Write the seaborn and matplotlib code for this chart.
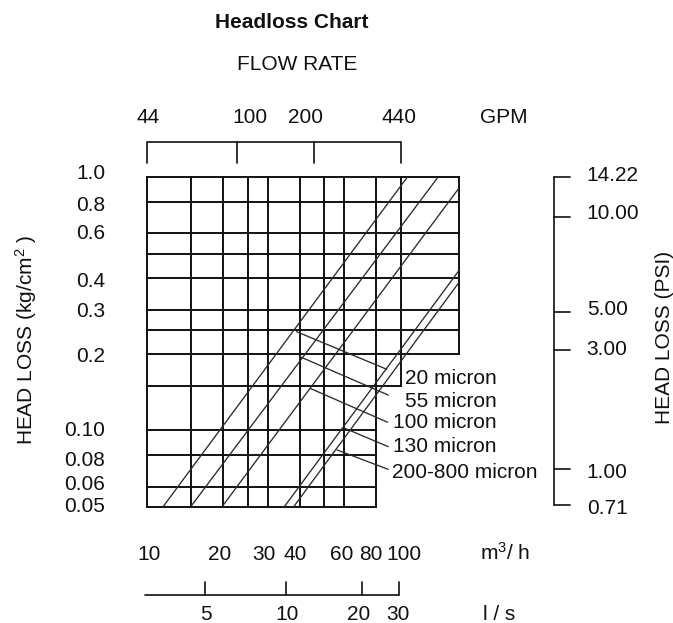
import numpy as np
import pandas as pd
import matplotlib
matplotlib.use("Agg")
import matplotlib.pyplot as plt
import matplotlib.transforms as mtrans
import seaborn as sns

# ---------------- data ----------------
flow_grid = [10, 15, 20, 25, 30, 40, 50, 60, 80, 100, 170]          # m3/h
head_grid = [1.0, 0.8, 0.6, 0.5, 0.4, 0.3, 0.25, 0.2, 0.15, 0.1, 0.08, 0.06, 0.05]  # kg/cm2
# stepped right-hand edge of the grid: band lower head -> right edge flow
edge_heads = [0.2, 0.15, 0.05]
edge_flows = [170, 100, 80]

filters = ["20 micron", "55 micron", "100 micron", "130 micron", "200-800 micron"]
line_flow_start = [11.6, 14.9, 19.8, 34.8, 37.9]
line_head_start = [0.05, 0.05, 0.05, 0.05, 0.05]
line_flow_end = [106, 140, 170, 170, 170]
line_head_end = [1.0, 1.0, 0.91, 0.43, 0.386]

leader_flow_start = [38.9, 40.1, 43.9, 59.8, 56.1]
leader_head_start = [0.2456, 0.1956, 0.1468, 0.1023, 0.0838]
leader_flow_end = [88.0, 89.3, 88.7, 89.3, 89.3]
leader_head_end = [0.1745, 0.138, 0.1078, 0.0863, 0.0702]
label_flow = [103.9, 103.9, 93.5, 93.5, 92.1]
label_head = [0.1631, 0.1328, 0.109, 0.0877, 0.0695]

kg_ticks = [1.0, 0.8, 0.6, 0.4, 0.3, 0.2, 0.10, 0.08, 0.06, 0.05]
kg_labels = ["1.0", "0.8", "0.6", "0.4", "0.3", "0.2", "0.10", "0.08", "0.06", "0.05"]
m3h_ticks = [10, 20, 30, 40, 60, 80, 100]
gpm_ticks = [44, 100, 200, 440]
GPM_TO_M3H = 0.22712
ls_ticks = [5, 10, 20, 30]
ls_tick_m3h = [17.0, 35.2, 70.6, 98.5]
ls_line_start_m3h = 9.85
psi_labels = ["14.22", "10.00", "5.00", "3.00", "1.00", "0.71"]
psi_tick_kg = [1.0, 0.70, 0.295, 0.207, 0.0703, 0.0508]

# ---------------- layout (pixels) ----------------
W, H = 673, 623
AX_L, AX_R, AX_T, AX_B = 146.7, 459.3, 177.3, 506.7
FS = 15.0
kg_nudge = [-5.6, 1.5, -1.8, 1.9, 0.3, 0.7, -2.4, 3.8, -3.7, -1.7]
m3h_nudge = [2.1, -3.2, -4.1, -4.2, -2.7, -5.6, 3.2]
gpm_nudge = [1.3, 12.5, -7.8, -1.7]
ls_nudge = [1, 1.7, -3.7, -0.8]
psi_nudge = [-3.3, -4.6, -3.7, -2.7, 1.0, 1.7]
HALF_DIGIT = 7.45

sns.set_style("white")
plt.rcParams["font.family"] = ["Liberation Sans", "DejaVu Sans"]
plt.rcParams["mathtext.fontset"] = "custom"
plt.rcParams["mathtext.rm"] = "Liberation Sans"
plt.rcParams["mathtext.it"] = "Liberation Sans:italic"
plt.rcParams["mathtext.bf"] = "Liberation Sans:bold"

fig = plt.figure(figsize=(W / 100, H / 100), dpi=100)
fig.patch.set_facecolor("white")
ax = fig.add_axes([AX_L / W, (H - AX_B) / H, (AX_R - AX_L) / W, (AX_B - AX_T) / H])
ax.set_xscale("log")
ax.set_yscale("log")
ax.set_xlim(10, 170)
ax.set_ylim(0.05, 1.0)


def fx(px):
    return (px - AX_L) / (AX_R - AX_L)


def fy(py):
    return (AX_B - py) / (AX_B - AX_T)


bx = mtrans.blended_transform_factory(ax.transData, ax.transAxes)
by = mtrans.blended_transform_factory(ax.transAxes, ax.transData)

GRID_LW = 1.4
GRID_C = "#111111"
TXT_C = "#111111"


def right_edge(h):
    for eh, ef in zip(edge_heads, edge_flows):
        if h >= eh - 1e-9:
            return ef
    return edge_flows[-1]


def bottom_of(f):
    low = None
    for eh, ef in zip(edge_heads, edge_flows):
        if ef >= f:
            low = eh
        else:
            break
    return low


for h in head_grid:
    ax.hlines(h, flow_grid[0], right_edge(h), color=GRID_C, lw=GRID_LW,
              clip_on=False, capstyle="projecting")
for f in flow_grid:
    ax.vlines(f, bottom_of(f), head_grid[0], color=GRID_C, lw=GRID_LW,
              clip_on=False, capstyle="projecting")

# diagonal headloss curves
rows = []
for name, fs, hs, fe, he in zip(filters, line_flow_start, line_head_start,
                                line_flow_end, line_head_end):
    rows.append({"filter": name, "flow": fs, "head": hs})
    rows.append({"filter": name, "flow": fe, "head": he})
df = pd.DataFrame(rows)
sns.lineplot(data=df, x="flow", y="head", hue="filter", units="filter",
             estimator=None, sort=False, palette={n: "#2b2b2b" for n in filters},
             legend=False, lw=0.95, ax=ax)

# leader lines + labels
for name, f0, h0, f1, h1, lf, lh in zip(filters, leader_flow_start, leader_head_start,
                                        leader_flow_end, leader_head_end,
                                        label_flow, label_head):
    ax.plot([f0, f1], [h0, h1], color="#2b2b2b", lw=0.95, clip_on=False)
    ax.annotate(name, xy=(lf, lh), xycoords="data", xytext=(0, -HALF_DIGIT),
                textcoords="offset pixels", ha="left", va="baseline", fontsize=FS,
                color=TXT_C, annotation_clip=False)

ax.axis("off")

# left kg/cm2 labels
for k, lab, nd in zip(kg_ticks, kg_labels, kg_nudge):
    ax.annotate(lab, xy=(fx(105), k), xycoords=by, xytext=(0, -(HALF_DIGIT + nd)),
                textcoords="offset pixels", ha="right", va="baseline", fontsize=FS,
                color=TXT_C, annotation_clip=False)

# top GPM bracket
gpm_m3h = [g * GPM_TO_M3H for g in gpm_ticks]
ax.plot([gpm_m3h[0], gpm_m3h[-1]], [fy(141.7)] * 2, transform=bx, clip_on=False,
        color=GRID_C, lw=1.2, solid_capstyle="butt")
for g, gm, nd in zip(gpm_ticks, gpm_m3h, gpm_nudge):
    ax.plot([gm, gm], [fy(141.7), fy(163.3)], transform=bx, clip_on=False,
            color=GRID_C, lw=1.2)
    ax.annotate(str(g), xy=(gm, fy(123.3)), xycoords=bx, xytext=(nd, 0),
                textcoords="offset pixels", ha="center", va="baseline", fontsize=FS,
                color=TXT_C, annotation_clip=False)

# bottom m3/h labels
for m, nd in zip(m3h_ticks, m3h_nudge):
    ax.annotate(str(m), xy=(m, fy(560)), xycoords=bx, xytext=(nd, 0),
                textcoords="offset pixels", ha="center", va="baseline", fontsize=FS,
                color=TXT_C, annotation_clip=False)

# l/s scale
ax.plot([ls_line_start_m3h, ls_tick_m3h[-1]], [fy(595)] * 2, transform=bx,
        clip_on=False, color=GRID_C, lw=1.2)
for v, pos, nd in zip(ls_ticks, ls_tick_m3h, ls_nudge):
    ax.plot([pos, pos], [fy(582), fy(595)], transform=bx, clip_on=False,
            color=GRID_C, lw=1.2)
    ax.annotate(str(v), xy=(pos, fy(619.7)), xycoords=bx, xytext=(nd, 0),
                textcoords="offset pixels", ha="center", va="baseline", fontsize=FS,
                color=TXT_C, annotation_clip=False)

# right PSI bracket
ax.plot([fx(554)] * 2, [psi_tick_kg[0], psi_tick_kg[-1]], transform=by,
        clip_on=False, color=GRID_C, lw=1.2)
for lab, pos, nd in zip(psi_labels, psi_tick_kg, psi_nudge):
    ax.plot([fx(554), fx(570)], [pos, pos], transform=by, clip_on=False,
            color=GRID_C, lw=1.2)
    ax.annotate(lab, xy=(fx(586.7), pos), xycoords=by, xytext=(0, -(HALF_DIGIT + nd)),
                textcoords="offset pixels", ha="left", va="baseline", fontsize=FS,
                color=TXT_C, annotation_clip=False)


def ftext(px, py, s, **kw):
    fig.text(px / W, 1 - py / H, s, fontsize=FS, color=TXT_C, **kw)


ftext(291.7, 28.3, "Headloss Chart", ha="center", va="baseline", weight="bold")
ftext(297.5, 70.0, "FLOW RATE", ha="center", va="baseline")
ftext(480, 123.3, "GPM", ha="left", va="baseline")
ftext(480, 560, r"m$^{\mathregular{3}}$/ h", ha="left", va="baseline")
ftext(483, 619.7, "l / s", ha="left", va="baseline")
ftext(26, 340, r"HEAD LOSS (kg/cm$^{\mathregular{2}}$ )", ha="center", va="center",
      rotation=90)
ftext(664, 337, "HEAD LOSS (PSI)", ha="center", va="center", rotation=90)

fig.savefig("out.png", dpi=100, facecolor="white")
